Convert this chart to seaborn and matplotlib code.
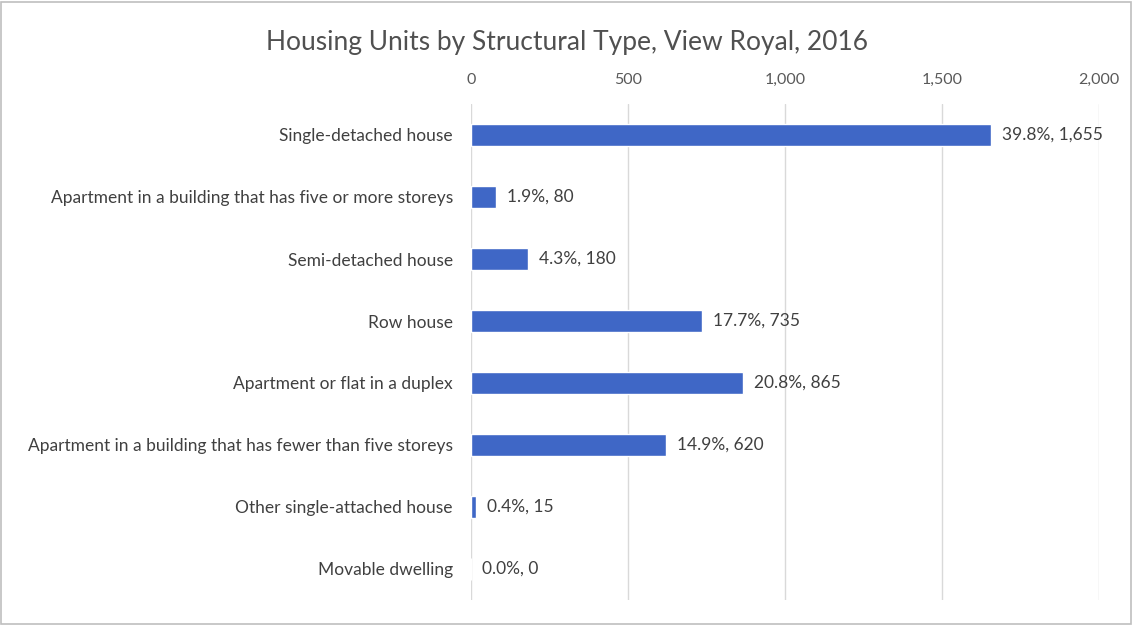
import pandas as pd
import seaborn as sns
import matplotlib.pyplot as plt
from matplotlib.patches import Rectangle

# Chart data
categories = [
    "Single-detached house",
    "Apartment in a building that has five or more storeys",
    "Semi-detached house",
    "Row house",
    "Apartment or flat in a duplex",
    "Apartment in a building that has fewer than five storeys",
    "Other single-attached house",
    "Movable dwelling",
]
units = [1655, 80, 180, 735, 865, 620, 15, 0]
shares = [39.8, 1.9, 4.3, 17.7, 20.8, 14.9, 0.4, 0.0]
x_ticks = [0, 500, 1000, 1500, 2000]

df = pd.DataFrame({"type": categories, "units": units, "share": shares})

sns.set_theme(style="white")
plt.rcParams["font.family"] = ["Lato", "DejaVu Sans"]
text_col = "#404040"

fig = plt.figure(figsize=(11.33, 6.25), dpi=100)
ax = fig.add_axes([0.4157, 0.04, 0.5543, 0.7936])

sns.barplot(data=df, x="units", y="type", color="#3F67C6", width=0.34,
            orient="h", ax=ax, saturation=1)

ax.set_xlim(0, 2000)
ax.set_ylim(7.5, -0.5)
ax.set_xticks(x_ticks)
ax.set_xticklabels([f"{t:,}" for t in x_ticks], fontsize=11.5, color="#595959")
ax.xaxis.tick_top()
ax.tick_params(axis="x", length=0, pad=12)
ax.tick_params(axis="y", length=0, pad=13, labelsize=12.5, labelcolor=text_col)
ax.set_xlabel("")
ax.set_ylabel("")
ax.grid(axis="x", color="#d9d9d9", linewidth=1)
ax.set_axisbelow(True)
for s in ax.spines.values():
    s.set_visible(False)

# value labels
for i, row in df.iterrows():
    ax.annotate(f"{row['share']:.1f}%, {row['units']:,}", xy=(row["units"], i),
                xytext=(8, 0), textcoords="offset points", va="center",
                ha="left", fontsize=12.5, color=text_col)

fig.suptitle("Housing Units by Structural Type, View Royal, 2016",
             x=0.5, y=0.952, fontsize=19, color="#505050")

fig.patches.append(Rectangle((0.001, 0.002), 0.997, 0.995, transform=fig.transFigure,
                             fill=False, edgecolor="#bfbfbf", linewidth=1.2))

fig.savefig("out.png", dpi=100)
